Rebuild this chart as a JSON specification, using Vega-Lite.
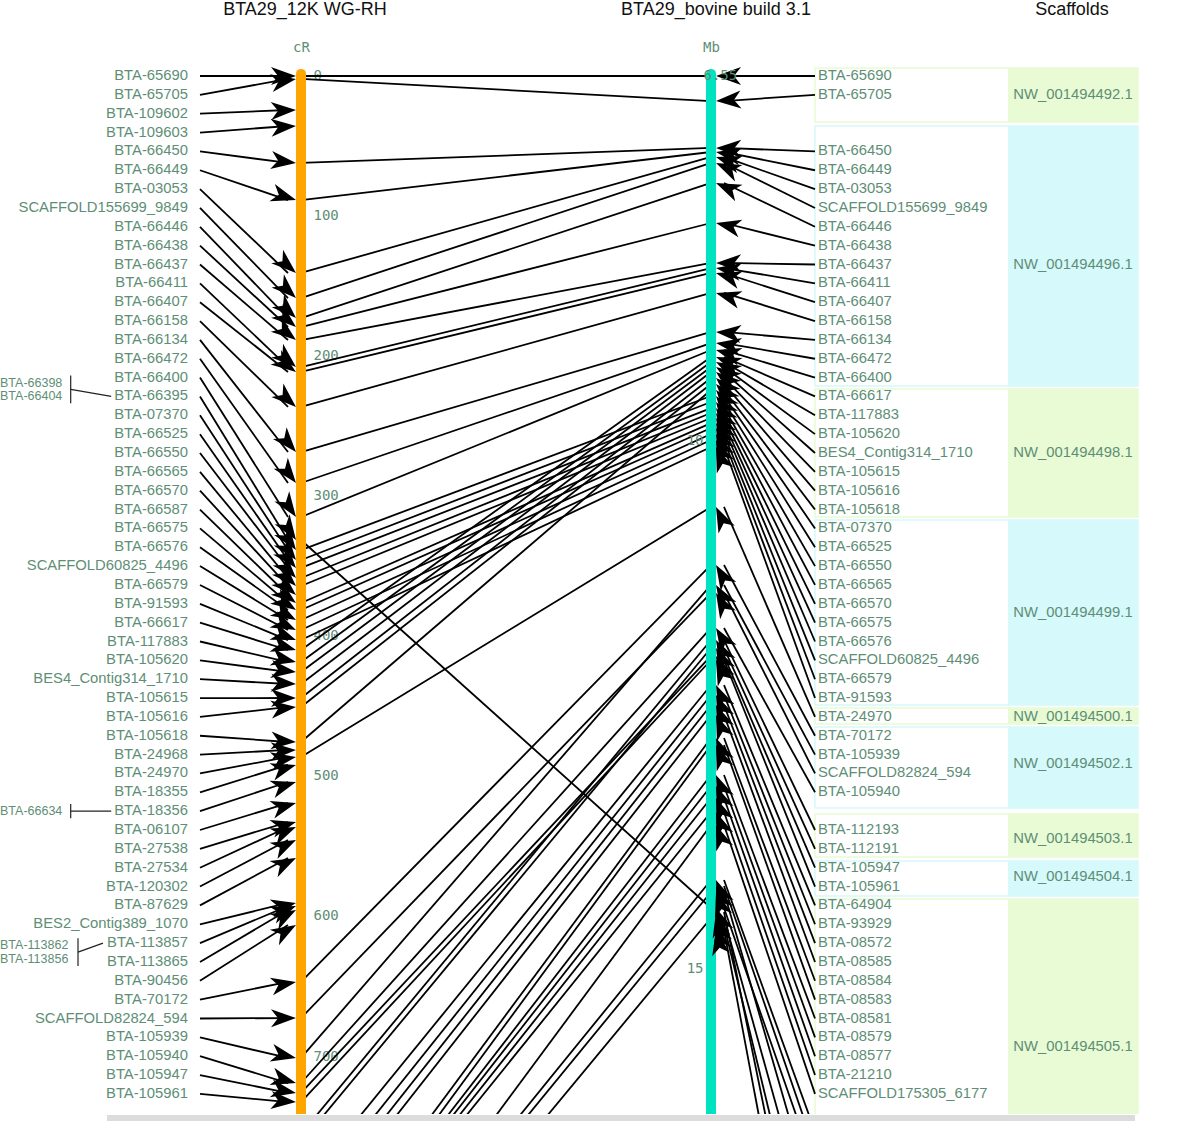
{
  "$schema": "https://vega.github.io/schema/vega-lite/v6.json",
  "width": 1200,
  "height": 1114,
  "autosize": {"type": "none"},
  "padding": {"left": 0, "top": 0, "right": 0, "bottom": 21},
  "background": "white",
  "config": {"view": {"stroke": null}},
  "datasets": {
    "markers": [
      {"m": "BTA-65690", "lr": 0, "cR": 0, "rr": 0, "Mb": 6.55},
      {"m": "BTA-65705", "lr": 1, "cR": 2.1, "rr": 1, "Mb": 6.787},
      {"m": "BTA-109602", "lr": 2, "cR": 24.3},
      {"m": "BTA-109603", "lr": 3, "cR": 35.7},
      {"m": "BTA-66450", "lr": 4, "cR": 62.1, "rr": 4, "Mb": 7.231},
      {"m": "BTA-66449", "lr": 5, "cR": 88.6, "rr": 5, "Mb": 7.269},
      {"m": "BTA-03053", "lr": 6, "cR": 140.7, "rr": 6, "Mb": 7.316},
      {"m": "SCAFFOLD155699_9849", "lr": 7, "cR": 158.6, "rr": 7, "Mb": 7.373},
      {"m": "BTA-66446", "lr": 8, "cR": 172.9, "rr": 8, "Mb": 7.562},
      {"m": "BTA-66438", "lr": 9, "cR": 179.3, "rr": 9, "Mb": 7.941},
      {"m": "BTA-66437", "lr": 10, "cR": 188.6, "rr": 10, "Mb": 8.319},
      {"m": "BTA-66411", "lr": 11, "cR": 207.9, "rr": 11, "Mb": 8.367},
      {"m": "BTA-66407", "lr": 12, "cR": 211.4, "rr": 12, "Mb": 8.414},
      {"m": "BTA-66158", "lr": 13, "cR": 236.4, "rr": 13, "Mb": 8.603},
      {"m": "BTA-66134", "lr": 14, "cR": 268.6, "rr": 14, "Mb": 8.972},
      {"m": "BTA-66472", "lr": 15, "cR": 290.7, "rr": 15, "Mb": 9.077},
      {"m": "BTA-66400", "lr": 16, "cR": 315.0, "rr": 16, "Mb": 9.143},
      {"m": "BTA-66395", "lr": 17, "cR": 331.4, "rr": 58, "Mb": 14.423},
      {"m": "BTA-07370", "lr": 18, "cR": 338.6, "rr": 24, "Mb": 9.578},
      {"m": "BTA-66525", "lr": 19, "cR": 345.7, "rr": 25, "Mb": 9.635},
      {"m": "BTA-66550", "lr": 20, "cR": 351.4, "rr": 26, "Mb": 9.692},
      {"m": "BTA-66565", "lr": 21, "cR": 358.6, "rr": 27, "Mb": 9.739},
      {"m": "BTA-66570", "lr": 22, "cR": 364.3, "rr": 28, "Mb": 9.786},
      {"m": "BTA-66587", "lr": 23, "cR": 370.7},
      {"m": "BTA-66575", "lr": 24, "cR": 376.4, "rr": 29, "Mb": 9.834},
      {"m": "BTA-66576", "lr": 25, "cR": 381.4, "rr": 30, "Mb": 9.881},
      {"m": "SCAFFOLD60825_4496", "lr": 26, "cR": 388.6, "rr": 31, "Mb": 9.938},
      {"m": "BTA-66579", "lr": 27, "cR": 395.7, "rr": 32, "Mb": 9.994},
      {"m": "BTA-91593", "lr": 28, "cR": 402.9, "rr": 33, "Mb": 10.061},
      {"m": "BTA-66617", "lr": 29, "cR": 410.0, "rr": 17, "Mb": 9.209},
      {"m": "BTA-117883", "lr": 30, "cR": 418.6, "rr": 18, "Mb": 9.256},
      {"m": "BTA-105620", "lr": 31, "cR": 425.7, "rr": 19, "Mb": 9.304},
      {"m": "BES4_Contig314_1710", "lr": 32, "cR": 434.3, "rr": 20, "Mb": 9.351},
      {"m": "BTA-105615", "lr": 33, "cR": 444.3, "rr": 21, "Mb": 9.408},
      {"m": "BTA-105616", "lr": 34, "cR": 450.7, "rr": 22, "Mb": 9.464},
      {"m": "BTA-105618", "lr": 35, "cR": 475.7, "rr": 23, "Mb": 9.521},
      {"m": "BTA-24968", "lr": 36, "cR": 481.4},
      {"m": "BTA-24970", "lr": 37, "cR": 486.4, "rr": 34, "Mb": 10.628},
      {"m": "BTA-18355", "lr": 38, "cR": 492.1},
      {"m": "BTA-18356", "lr": 39, "cR": 504.3},
      {"m": "BTA-06107", "lr": 40, "cR": 519.3},
      {"m": "BTA-27538", "lr": 41, "cR": 532.9},
      {"m": "BTA-27534", "lr": 42, "cR": 536.4},
      {"m": "BTA-120302", "lr": 43, "cR": 545.7},
      {"m": "BTA-87629", "lr": 44, "cR": 558.6},
      {"m": "BES2_Contig389_1070", "lr": 45, "cR": 590.7},
      {"m": "BTA-113857", "lr": 46, "cR": 592.9},
      {"m": "BTA-113865", "lr": 47, "cR": 595.7},
      {"m": "BTA-90456", "lr": 48, "cR": 606.4},
      {"m": "BTA-70172", "lr": 49, "cR": 647.1, "rr": 35, "Mb": 11.177},
      {"m": "SCAFFOLD82824_594", "lr": 50, "cR": 672.9, "rr": 37, "Mb": 11.442},
      {"m": "BTA-105939", "lr": 51, "cR": 701.4, "rr": 36, "Mb": 11.366},
      {"m": "BTA-105940", "lr": 52, "cR": 719.3, "rr": 38, "Mb": 11.773},
      {"m": "BTA-105947", "lr": 53, "cR": 726.4, "rr": 42, "Mb": 12.038},
      {"m": "BTA-105961", "lr": 54, "cR": 732.9, "rr": 43, "Mb": 12.076},
      {"m": "BTA-112193", "cR": 755.7, "rr": 40, "Mb": 11.887},
      {"m": "BTA-112191", "cR": 761.9, "rr": 41, "Mb": 11.963},
      {"m": "BTA-64904", "cR": 794.6, "rr": 44, "Mb": 12.313},
      {"m": "BTA-93929", "cR": 808.5, "rr": 45, "Mb": 12.407},
      {"m": "BTA-08572", "cR": 819.4, "rr": 46, "Mb": 12.502},
      {"m": "BTA-08585", "cR": 829.3, "rr": 47, "Mb": 12.597},
      {"m": "BTA-08584", "cR": 868.2, "rr": 48, "Mb": 12.814},
      {"m": "BTA-08583", "cR": 876.1, "rr": 49, "Mb": 12.88},
      {"m": "BTA-08581", "cR": 878, "rr": 50, "Mb": 13.164},
      {"m": "BTA-08579", "cR": 881, "rr": 51, "Mb": 13.268},
      {"m": "BTA-08577", "cR": 885, "rr": 52, "Mb": 13.382},
      {"m": "BTA-21210", "cR": 889, "rr": 53, "Mb": 13.514},
      {"m": "SCAFFOLD175305_6177", "cR": 930.7, "rr": 54, "Mb": 13.637},
      {"cR": 935, "rr": 56, "Mb": 14.158},
      {"rr": 57, "Mb": 14.215},
      {"cR": 940, "rr": 60, "Mb": 14.271},
      {"cR": 955, "rr": 62, "Mb": 14.517},
      {"rr": 65, "Mb": 14.584},
      {"rr": 68, "Mb": 14.461},
      {"rr": 71, "Mb": 14.631}
    ],
    "scaffolds": [
      {"s": "NW_001494492.1", "r0": -0.42, "r1": 2.44, "f": 0, "l": 2},
      {"s": "NW_001494496.1", "r0": 2.65, "r1": 16.45, "f": 4, "l": 16},
      {"s": "NW_001494498.1", "r0": 16.6, "r1": 23.4, "f": 17, "l": 23},
      {"s": "NW_001494499.1", "r0": 23.55, "r1": 33.37, "f": 24, "l": 33},
      {"s": "NW_001494500.1", "r0": 33.53, "r1": 34.38, "f": 34, "l": 34},
      {"s": "NW_001494502.1", "r0": 34.54, "r1": 38.83, "f": 35, "l": 38},
      {"s": "NW_001494503.1", "r0": 39.15, "r1": 41.43, "f": 40, "l": 41},
      {"s": "NW_001494504.1", "r0": 41.65, "r1": 43.5, "f": 42, "l": 43},
      {"s": "NW_001494505.1", "r0": 43.66, "r1": 59.4, "f": 44, "l": 59}
    ],
    "aliases": [
      {"alias": "BTA-66398", "host": "BTA-66395", "ar": 16.27},
      {"alias": "BTA-66404", "host": "BTA-66395", "ar": 16.98},
      {"alias": "BTA-66634", "host": "BTA-18356", "ar": 39},
      {"alias": "BTA-113862", "host": "BTA-113857", "ar": 46.12},
      {"alias": "BTA-113856", "host": "BTA-113857", "ar": 46.84}
    ]
  },
  "resolve": {"scale": {"y": "independent"}, "axis": {"y": "independent"}},
  "layer": [
    {
      "data": {"name": "scaffolds"},
      "transform": [
        {"calculate": "datum.r0 * 13.4643", "as": "y0"},
        {"calculate": "datum.r1 * 13.4643", "as": "y1"},
        {"calculate": "(datum.f + datum.l) / 2 * 13.4643", "as": "yt"}
      ],
      "layer": [
        {
          "mark": {"type": "rect", "clip": true},
          "encoding": {
            "x": {"datum": 1008, "type": "quantitative", "scale": {"domain": [0, 1200], "nice": false, "zero": false}, "axis": null},
            "x2": {"datum": 1138},
            "y": {"field": "y0", "type": "quantitative", "scale": {"domain": [-54.2857, 741.4286], "reverse": true, "nice": false, "zero": false}, "axis": null},
            "y2": {"field": "y1"},
            "color": {"field": "s", "type": "nominal", "legend": null, "scale": {"domain": ["NW_001494492.1", "NW_001494496.1", "NW_001494498.1", "NW_001494499.1", "NW_001494500.1", "NW_001494502.1", "NW_001494503.1", "NW_001494504.1", "NW_001494505.1"], "range": ["#e9fbd4", "#d6f9fb", "#e9fbd4", "#d6f9fb", "#e9fbd4", "#d6f9fb", "#e9fbd4", "#d6f9fb", "#e9fbd4"]}}
          }
        },
        {
          "mark": {"type": "rect", "filled": false, "strokeWidth": 1.5, "clip": true},
          "encoding": {
            "x": {"datum": 815, "type": "quantitative", "scale": {"domain": [0, 1200], "nice": false, "zero": false}, "axis": null},
            "x2": {"datum": 1138},
            "y": {"field": "y0", "type": "quantitative", "scale": {"domain": [-54.2857, 741.4286], "reverse": true, "nice": false, "zero": false}, "axis": null},
            "y2": {"field": "y1"},
            "color": {"field": "s", "type": "nominal", "legend": null}
          }
        },
        {
          "mark": {"type": "text", "font": "Liberation Sans", "fontSize": 14.8, "color": "#5e8e76", "align": "center", "baseline": "middle", "clip": true},
          "encoding": {
            "x": {"datum": 1073, "type": "quantitative", "scale": {"domain": [0, 1200], "nice": false, "zero": false}, "axis": null},
            "y": {"field": "yt", "type": "quantitative", "scale": {"domain": [-54.2857, 741.4286], "reverse": true, "nice": false, "zero": false}, "axis": null},
            "text": {"field": "s"}
          }
        }
      ]
    },
    {
      "data": {"name": "markers"},
      "transform": [
        {"calculate": "isValid(datum.lr) ? datum.lr * 13.4643 : null", "as": "yl"},
        {"calculate": "isValid(datum.rr) ? datum.rr * 13.4643 : null", "as": "yr"},
        {"calculate": "isValid(datum.Mb) ? (datum.Mb - 6.55) * 75.486 : null", "as": "ym"}
      ],
      "layer": [
        {
          "transform": [{"filter": "isValid(datum.cR) && isValid(datum.Mb)"}],
          "mark": {"type": "rule", "color": "black", "strokeWidth": 1.8, "clip": true},
          "encoding": {
            "x": {"datum": 301, "type": "quantitative", "scale": {"domain": [0, 1200], "nice": false, "zero": false}, "axis": null},
            "x2": {"datum": 711},
            "y": {"field": "cR", "type": "quantitative", "scale": {"domain": [-54.2857, 741.4286], "reverse": true, "nice": false, "zero": false}, "axis": null},
            "y2": {"field": "ym"}
          }
        },
        {
          "transform": [{"filter": "isValid(datum.lr)"}],
          "mark": {"type": "rule", "color": "black", "strokeWidth": 1.8, "clip": true},
          "encoding": {
            "x": {"datum": 200, "type": "quantitative", "scale": {"domain": [0, 1200], "nice": false, "zero": false}, "axis": null},
            "x2": {"datum": 288},
            "y": {"field": "yl", "type": "quantitative", "scale": {"domain": [-54.2857, 741.4286], "reverse": true, "nice": false, "zero": false}, "axis": null},
            "y2": {"field": "cR"}
          }
        },
        {
          "transform": [{"filter": "isValid(datum.rr) && isValid(datum.Mb)"}],
          "mark": {"type": "rule", "color": "black", "strokeWidth": 1.8, "clip": true},
          "encoding": {
            "x": {"datum": 815, "type": "quantitative", "scale": {"domain": [0, 1200], "nice": false, "zero": false}, "axis": null},
            "x2": {"datum": 724},
            "y": {"field": "yr", "type": "quantitative", "scale": {"domain": [-54.2857, 741.4286], "reverse": true, "nice": false, "zero": false}, "axis": null},
            "y2": {"field": "ym"}
          }
        },
        {
          "data": {"name": "aliases"},
          "transform": [
            {"calculate": "length(datum.alias)", "as": "len"},
            {"aggregate": [
              {"op": "min", "field": "ar", "as": "a0"},
              {"op": "max", "field": "ar", "as": "a1"},
              {"op": "mean", "field": "ar", "as": "am"},
              {"op": "max", "field": "len", "as": "w"}
            ], "groupby": ["host"]},
            {"lookup": "host", "from": {"data": {"name": "markers"}, "key": "m", "fields": ["lr"]}},
            {"calculate": "7.3 * datum.w + 5", "as": "bx"},
            {"calculate": "(datum.a0 - 0.38) * 13.4643", "as": "yb0"},
            {"calculate": "(datum.a1 + 0.38) * 13.4643", "as": "yb1"}
          ],
          "mark": {"type": "rule", "color": "#222222", "strokeWidth": 1.2},
          "encoding": {
            "x": {"field": "bx", "type": "quantitative", "scale": {"domain": [0, 1200], "nice": false, "zero": false}, "axis": null},
            "y": {"field": "yb0", "type": "quantitative", "scale": {"domain": [-54.2857, 741.4286], "reverse": true, "nice": false, "zero": false}, "axis": null},
            "y2": {"field": "yb1"}
          }
        },
        {
          "data": {"name": "aliases"},
          "transform": [
            {"calculate": "length(datum.alias)", "as": "len"},
            {"aggregate": [
              {"op": "mean", "field": "ar", "as": "am"},
              {"op": "max", "field": "len", "as": "w"}
            ], "groupby": ["host"]},
            {"lookup": "host", "from": {"data": {"name": "markers"}, "key": "m", "fields": ["lr"]}},
            {"calculate": "7.3 * datum.w + 5", "as": "bx"},
            {"calculate": "185 - 8.2 * length(datum.host)", "as": "ex"},
            {"calculate": "datum.am * 13.4643", "as": "ya"},
            {"calculate": "datum.lr * 13.4643", "as": "yh"}
          ],
          "mark": {"type": "rule", "color": "#222222", "strokeWidth": 1.2},
          "encoding": {
            "x": {"field": "bx", "type": "quantitative", "scale": {"domain": [0, 1200], "nice": false, "zero": false}, "axis": null},
            "x2": {"field": "ex"},
            "y": {"field": "ya", "type": "quantitative", "scale": {"domain": [-54.2857, 741.4286], "reverse": true, "nice": false, "zero": false}, "axis": null},
            "y2": {"field": "yh"}
          }
        }
      ]
    },
    {
      "data": {"values": [{"map": "BTA29_12K WG-RH"}]},
      "mark": {"type": "rule", "color": "#ffa500", "strokeWidth": 10, "strokeCap": "round", "clip": true},
      "encoding": {
        "x": {"datum": 301, "type": "quantitative", "scale": {"domain": [0, 1200], "nice": false, "zero": false}, "axis": null},
        "y": {"datum": -1.5, "type": "quantitative", "scale": {"domain": [-54.2857, 741.4286], "reverse": true, "nice": false, "zero": false},
          "axis": {"orient": "right", "offset": -887, "values": [0, 100, 200, 300, 400, 500, 600, 700], "format": "d", "domain": false, "ticks": false, "tickSize": 0, "labelPadding": 0, "grid": false, "labelFont": "DejaVu Sans Mono", "labelFontSize": 14, "labelColor": "#5e8e76", "labelAlign": "left", "labelBaseline": "middle", "labelOverlap": false, "labelFlush": false, "title": "cR", "titleFont": "DejaVu Sans Mono", "titleFontSize": 14, "titleFontWeight": "normal", "titleColor": "#5e8e76", "titleAngle": 0, "titleX": -12, "titleY": 47, "titleAlign": "center", "titleBaseline": "middle", "zindex": 0}},
        "y2": {"datum": 760}
      }
    },
    {
      "data": {"values": [{"map": "BTA29_bovine build 3.1"}]},
      "mark": {"type": "rule", "color": "#00e3c1", "strokeWidth": 10, "strokeCap": "round", "clip": true},
      "encoding": {
        "x": {"datum": 711, "type": "quantitative", "scale": {"domain": [0, 1200], "nice": false, "zero": false}, "axis": null},
        "y": {"datum": 6.53, "type": "quantitative", "scale": {"domain": [5.83085, 16.37211], "reverse": true, "nice": false, "zero": false},
          "axis": {"orient": "left", "offset": -706, "values": [6.55, 10, 15], "format": ".3~r", "domain": false, "ticks": false, "tickSize": 0, "labelPadding": 3, "grid": false, "labelFont": "DejaVu Sans Mono", "labelFontSize": 14, "labelColor": "#5e8e76", "labelAlign": {"condition": {"test": "datum.value < 7", "value": "left"}, "value": "right"}, "labelBaseline": "middle", "labelOverlap": false, "labelFlush": false, "title": "Mb", "titleFont": "DejaVu Sans Mono", "titleFontSize": 14, "titleFontWeight": "normal", "titleColor": "#5e8e76", "titleAngle": 0, "titleX": 5, "titleY": 47, "titleAlign": "center", "titleBaseline": "middle", "zindex": 1}},
        "y2": {"datum": 16.6}
      }
    },
    {
      "data": {"name": "markers"},
      "transform": [
        {"calculate": "isValid(datum.lr) ? datum.lr * 13.4643 : null", "as": "yl"},
        {"calculate": "isValid(datum.rr) ? datum.rr * 13.4643 : null", "as": "yr"},
        {"calculate": "isValid(datum.Mb) ? (datum.Mb - 6.55) * 75.486 : null", "as": "ym"},
        {"calculate": "isValid(datum.lr) ? atan2((datum.cR - datum.yl) * 1.4, 96) * 180 / PI : 0", "as": "angL"},
        {"calculate": "isValid(datum.rr) && isValid(datum.Mb) ? atan2((datum.ym - datum.yr) * 1.4, -99) * 180 / PI : 0", "as": "angR"}
      ],
      "layer": [
        {
          "transform": [{"filter": "isValid(datum.lr)"}],
          "mark": {"type": "point", "shape": "M0,0L-1,-0.36L-0.72,0L-1,0.36Z", "size": 2500, "filled": true, "color": "black", "opacity": 1, "strokeWidth": 0, "clip": true},
          "encoding": {
            "x": {"datum": 296, "type": "quantitative", "scale": {"domain": [0, 1200], "nice": false, "zero": false}, "axis": null},
            "y": {"field": "cR", "type": "quantitative", "scale": {"domain": [-54.2857, 741.4286], "reverse": true, "nice": false, "zero": false}, "axis": null},
            "angle": {"field": "angL", "type": "quantitative", "scale": null}
          }
        },
        {
          "transform": [{"filter": "isValid(datum.rr) && isValid(datum.Mb)"}],
          "mark": {"type": "point", "shape": "M0,0L-1,-0.36L-0.72,0L-1,0.36Z", "size": 2500, "filled": true, "color": "black", "opacity": 1, "strokeWidth": 0, "clip": true},
          "encoding": {
            "x": {"datum": 716, "type": "quantitative", "scale": {"domain": [0, 1200], "nice": false, "zero": false}, "axis": null},
            "y": {"field": "ym", "type": "quantitative", "scale": {"domain": [-54.2857, 741.4286], "reverse": true, "nice": false, "zero": false}, "axis": null},
            "angle": {"field": "angR", "type": "quantitative", "scale": null}
          }
        },
        {
          "transform": [{"filter": "isValid(datum.lr)"}],
          "mark": {"type": "text", "font": "Liberation Sans", "fontSize": 14.8, "color": "#5e8e76", "align": "right", "baseline": "middle", "clip": true},
          "encoding": {
            "x": {"datum": 188, "type": "quantitative", "scale": {"domain": [0, 1200], "nice": false, "zero": false}, "axis": null},
            "y": {"field": "yl", "type": "quantitative", "scale": {"domain": [-54.2857, 741.4286], "reverse": true, "nice": false, "zero": false}, "axis": null},
            "text": {"field": "m"}
          }
        },
        {
          "transform": [{"filter": "isValid(datum.m) && isValid(datum.rr) && datum.rr <= 54"}],
          "mark": {"type": "text", "font": "Liberation Sans", "fontSize": 14.8, "color": "#5e8e76", "align": "left", "baseline": "middle", "clip": true},
          "encoding": {
            "x": {"datum": 818, "type": "quantitative", "scale": {"domain": [0, 1200], "nice": false, "zero": false}, "axis": null},
            "y": {"field": "yr", "type": "quantitative", "scale": {"domain": [-54.2857, 741.4286], "reverse": true, "nice": false, "zero": false}, "axis": null},
            "text": {"field": "m"}
          }
        },
        {
          "data": {"name": "aliases"},
          "transform": [{"calculate": "datum.ar * 13.4643", "as": "ya"}],
          "mark": {"type": "text", "font": "Liberation Sans", "fontSize": 12.5, "color": "#5e8e76", "align": "left", "baseline": "middle"},
          "encoding": {
            "x": {"datum": 0, "type": "quantitative", "scale": {"domain": [0, 1200], "nice": false, "zero": false}, "axis": null},
            "y": {"field": "ya", "type": "quantitative", "scale": {"domain": [-54.2857, 741.4286], "reverse": true, "nice": false, "zero": false}, "axis": null},
            "text": {"field": "alias"}
          }
        }
      ]
    },
    {
      "data": {"values": [{"edge": "view bottom"}]},
      "mark": {"type": "rule", "color": "#dcdcdc", "strokeWidth": 6},
      "encoding": {
        "x": {"datum": 107, "type": "quantitative", "scale": {"domain": [0, 1200], "nice": false, "zero": false}, "axis": null},
        "x2": {"datum": 1135},
        "y": {"datum": 744.3, "type": "quantitative", "scale": {"domain": [-54.2857, 741.4286], "reverse": true, "nice": false, "zero": false}, "axis": null}
      }
    },
    {
      "data": {"values": [{"t": "BTA29_12K WG-RH"}]},
      "mark": {"type": "text", "font": "Liberation Sans", "fontSize": 18, "color": "#111111", "align": "center", "baseline": "alphabetic"},
      "encoding": {
        "x": {"datum": 305, "type": "quantitative", "scale": {"domain": [0, 1200], "nice": false, "zero": false}, "axis": null},
        "y": {"datum": -43.57, "type": "quantitative", "scale": {"domain": [-54.2857, 741.4286], "reverse": true, "nice": false, "zero": false}, "axis": null},
        "text": {"field": "t"}
      }
    },
    {
      "data": {"values": [{"t": "BTA29_bovine build 3.1"}]},
      "mark": {"type": "text", "font": "Liberation Sans", "fontSize": 18, "color": "#111111", "align": "center", "baseline": "alphabetic"},
      "encoding": {
        "x": {"datum": 716, "type": "quantitative", "scale": {"domain": [0, 1200], "nice": false, "zero": false}, "axis": null},
        "y": {"datum": -43.57, "type": "quantitative", "scale": {"domain": [-54.2857, 741.4286], "reverse": true, "nice": false, "zero": false}, "axis": null},
        "text": {"field": "t"}
      }
    },
    {
      "data": {"values": [{"t": "Scaffolds"}]},
      "mark": {"type": "text", "font": "Liberation Sans", "fontSize": 18, "color": "#111111", "align": "center", "baseline": "alphabetic"},
      "encoding": {
        "x": {"datum": 1072, "type": "quantitative", "scale": {"domain": [0, 1200], "nice": false, "zero": false}, "axis": null},
        "y": {"datum": -43.57, "type": "quantitative", "scale": {"domain": [-54.2857, 741.4286], "reverse": true, "nice": false, "zero": false}, "axis": null},
        "text": {"field": "t"}
      }
    }
  ]
}
